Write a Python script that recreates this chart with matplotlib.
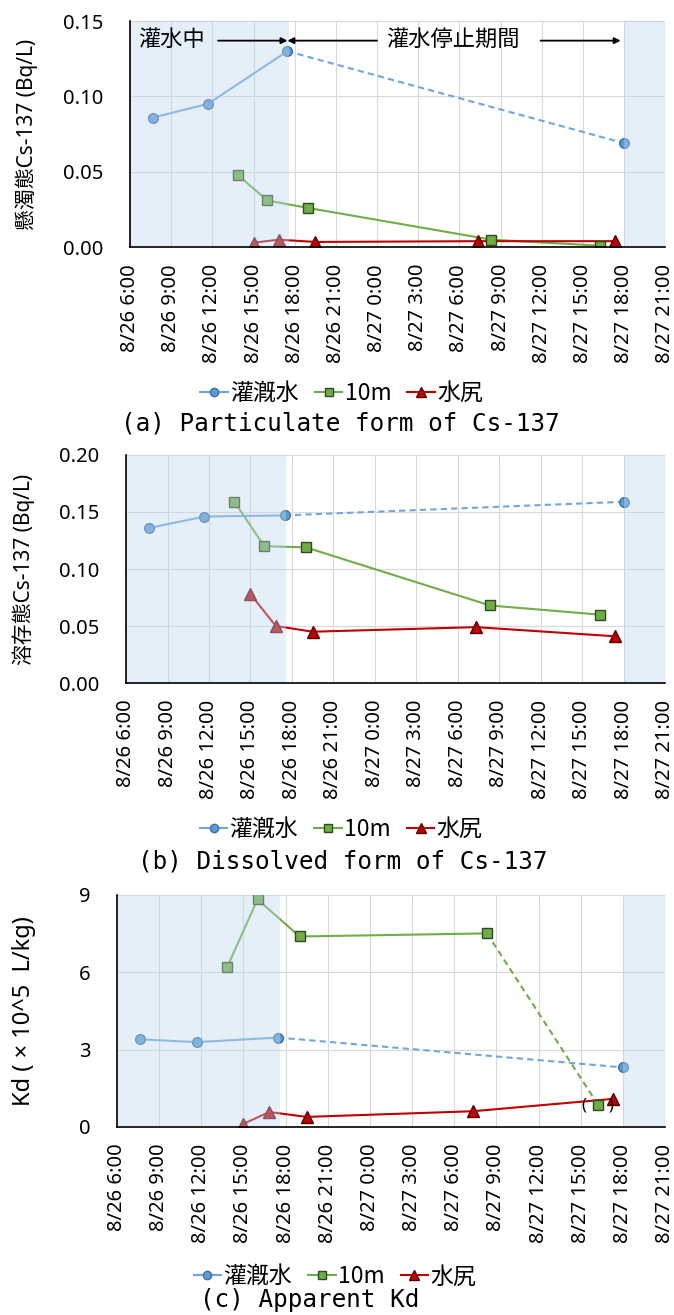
import pandas as pd
import matplotlib
matplotlib.use("Agg")
import matplotlib.pyplot as plt

plt.rcParams["font.family"] = ["Noto Sans", "Noto Sans CJK JP"]


def t(s):
    return pd.to_datetime(s, format="%m/%d %H:%M")


# 時刻の目盛り
tick_labels = ["8/26 6:00", "8/26 9:00", "8/26 12:00", "8/26 15:00", "8/26 18:00",
               "8/26 21:00", "8/27 0:00", "8/27 3:00", "8/27 6:00", "8/27 9:00",
               "8/27 12:00", "8/27 15:00", "8/27 18:00", "8/27 21:00"]

# 採水時刻
time_irr = ["8/26 7:40", "8/26 11:40", "8/26 17:28", "8/27 18:00"]
time_10m = ["8/26 13:50", "8/26 16:00", "8/26 19:00", "8/27 8:20", "8/27 16:15"]
time_out = ["8/26 15:00", "8/26 16:50", "8/26 19:30", "8/27 7:20", "8/27 17:20"]

# (a) 懸濁態 Cs-137 (Bq/L)
part_irr = [0.086, 0.095, 0.130, 0.069]
part_10m = [0.048, 0.031, 0.026, 0.005, 0.001]
part_out = [0.003, 0.005, 0.0035, 0.004, 0.004]

# (b) 溶存態 Cs-137 (Bq/L)
diss_irr = [0.136, 0.146, 0.147, 0.159]
diss_10m = [0.159, 0.120, 0.119, 0.068, 0.060]
diss_out = [0.078, 0.050, 0.045, 0.049, 0.041]

# (c) 見かけの Kd (x10^5 L/kg)
kd_irr = [3.40, 3.29, 3.47, 2.31]
kd_10m = [6.19, 8.83, 7.39, 7.51, 0.85]
kd_out = [0.12, 0.58, 0.39, 0.61, 1.09]

# 灌水期間
irrigation_periods = [("8/26 6:00", "8/26 17:35"), ("8/27 18:00", "8/27 21:00")]

series_names = ["灌漑水", "10m", "水尻"]

BLUE, BLUE_E = "#6FA6DC", "#41719C"
GREEN, GREEN_E = "#70AD47", "#2E4A1E"
RED, RED_E = "#C00000", "#5A0000"

fig = plt.figure(figsize=(6.74, 13.15), dpi=100)

panels = [
    dict(rect=[0.193, 0.812, 0.794, 0.172], irr=part_irr, m10=part_10m, out=part_out,
         yticks=[0, 0.05, 0.10, 0.15], ylabels=["0.00", "0.05", "0.10", "0.15"],
         ylabel="懸濁態Cs-137 (Bq/L)", ylab_x=-0.172, ylab_size=15,
         dash10=False, leg=(0.507, 0.701),
         caption="(a) Particulate form of Cs-137", cap=(0.505, 0.678)),
    dict(rect=[0.187, 0.4806, 0.800, 0.1734], irr=diss_irr, m10=diss_10m, out=diss_out,
         yticks=[0, 0.05, 0.10, 0.15, 0.20], ylabels=["0.00", "0.05", "0.10", "0.15", "0.20"],
         ylabel="溶存態Cs-137 (Bq/L)", ylab_x=-0.169, ylab_size=15,
         dash10=False, leg=(0.506, 0.369),
         caption="(b) Dissolved form of Cs-137", cap=(0.508, 0.3445)),
    dict(rect=[0.1736, 0.143, 0.813, 0.1764], irr=kd_irr, m10=kd_10m, out=kd_out,
         yticks=[0, 3, 6, 9], ylabels=["0", "3", "6", "9"],
         ylabel="Kd ( × 10^5  L/kg)", ylab_x=-0.148, ylab_size=17,
         dash10=True, leg=(0.497, 0.029),
         caption="(c) Apparent Kd", cap=(0.46, 0.0114)),
]

xt = t(tick_labels)

for p in panels:
    ax = fig.add_axes(p["rect"])

    ti, t10, to = t(time_irr), t(time_10m), t(time_out)

    # 灌漑水: 灌水停止期間は破線
    ax.plot(ti[:3], p["irr"][:3], color=BLUE, lw=1.5, zorder=2)
    ax.plot(ti[2:], p["irr"][2:], color=BLUE, lw=1.5, ls=(0, (3, 2)), zorder=2)
    ax.plot(ti, p["irr"], ls="none", marker="o", ms=7, mfc="#5B9BD5", mec=BLUE_E,
            mew=1, zorder=4)

    if p["dash10"]:
        ax.plot(t10[:4], p["m10"][:4], color=GREEN, lw=1.5, zorder=2)
        ax.plot(t10[3:], p["m10"][3:], color=GREEN, lw=1.5, ls=(0, (3, 2)), zorder=2)
        ax.text(t10[4], p["m10"][4], "(     )", ha="center", va="center",
                fontsize=12, zorder=5)
    else:
        ax.plot(t10, p["m10"], color=GREEN, lw=1.5, zorder=2)
    ax.plot(t10, p["m10"], ls="none", marker="s", ms=6.5, mfc=GREEN, mec=GREEN_E,
            mew=1, zorder=4)

    ax.plot(to, p["out"], color=RED, lw=1.5, zorder=2)
    ax.plot(to, p["out"], ls="none", marker="^", ms=8, mfc=RED, mec=RED_E,
            mew=1, zorder=4)

    # 灌水期間の網掛け (データの上に半透明で重ねる)
    for s, e in irrigation_periods:
        ax.axvspan(t(s), t(e), color="#BDD7EE", alpha=0.4, lw=0, zorder=5)

    ax.set_xlim(xt[0], xt[-1])
    ax.set_ylim(p["yticks"][0], p["yticks"][-1])
    ax.set_xticks(xt)
    ax.set_xticklabels(tick_labels, rotation=90, fontsize=14.5, va="top")
    ax.set_yticks(p["yticks"])
    ax.set_yticklabels(p["ylabels"], fontsize=14.5)
    ax.tick_params(length=0)
    ax.tick_params(axis="y", pad=19)
    ax.tick_params(axis="x", pad=12)
    ax.grid(True, color="#D9D9D9", lw=0.8, zorder=0)
    ax.set_axisbelow(True)
    for side in ["top", "right"]:
        ax.spines[side].set_visible(False)
    for side in ["left", "bottom"]:
        ax.spines[side].set_color("black")
        ax.spines[side].set_linewidth(1.2)
        ax.spines[side].set_zorder(6)

    ax.set_ylabel(p["ylabel"], fontsize=p["ylab_size"])
    ax.yaxis.set_label_coords(p["ylab_x"], 0.5)

    # 凡例
    handles = [
        plt.Line2D([], [], color=BLUE, lw=1.5, marker="o", ms=6, mfc="#5B9BD5", mec=BLUE_E),
        plt.Line2D([], [], color=GREEN, lw=1.5, marker="s", ms=5.5, mfc=GREEN, mec=GREEN_E),
        plt.Line2D([], [], color=RED, lw=1.5, marker="^", ms=7, mfc=RED, mec=RED_E),
    ]
    fig.legend(handles, series_names, loc="center", bbox_to_anchor=p["leg"], ncol=3,
               frameon=False, handlelength=1.2, handletextpad=0.1, columnspacing=0.7,
               prop={"family": ["Noto Sans CJK JP"], "size": 16.5})

    fig.text(p["cap"][0], p["cap"][1], p["caption"], ha="center", va="center",
             family="DejaVu Sans Mono", fontsize=17.5)

    if p is panels[0]:
        ya = 0.137
        ax.text(t("8/26 6:35"), ya, "灌水中", fontsize=16, va="center", ha="left", zorder=7)
        ax.text(t("8/27 0:40"), ya, "灌水停止期間", fontsize=16, va="center", ha="left",
                zorder=7)
        arrow = dict(arrowstyle="-|>", color="black", lw=1.3, mutation_scale=9,
                     shrinkA=0, shrinkB=0)
        ax.annotate("", xy=(t("8/26 17:28"), ya), xytext=(t("8/26 12:25"), ya),
                    arrowprops=arrow, zorder=7)
        ax.annotate("", xy=(t("8/26 17:28"), ya), xytext=(t("8/27 0:00"), ya),
                    arrowprops=arrow, zorder=7)
        ax.annotate("", xy=(t("8/27 17:45"), ya), xytext=(t("8/27 11:55"), ya),
                    arrowprops=arrow, zorder=7)

fig.savefig("out.png", dpi=100)
